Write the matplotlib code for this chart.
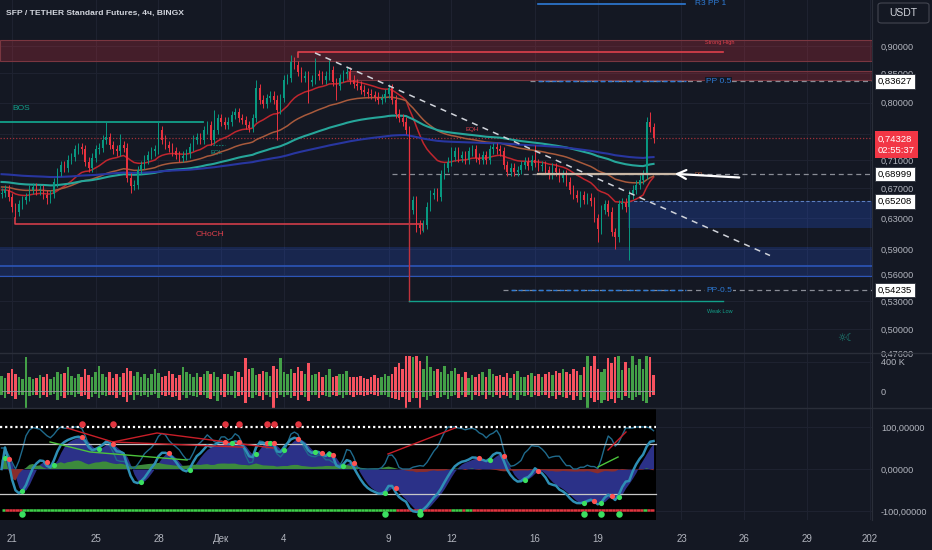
import numpy as np
import pandas as pd
import matplotlib
matplotlib.use("Agg")
import matplotlib.pyplot as plt
from matplotlib.collections import LineCollection
from matplotlib.patches import Rectangle, FancyBboxPatch

plt.rcParams['font.family'] = ['Liberation Sans', 'DejaVu Sans']

# ---- data (4h candles, time in days from 21 Nov 00:00) ----
open_first = 0.662
closes = [
    0.664, 0.668, 0.658, 0.644, 0.638, 0.648,
    0.654, 0.658, 0.668, 0.671, 0.667, 0.669,
    0.661, 0.656, 0.662, 0.678, 0.693, 0.703,
    0.699, 0.711, 0.715, 0.726, 0.730, 0.726,
    0.708, 0.699, 0.714, 0.726, 0.729, 0.741,
    0.745, 0.733, 0.726, 0.723, 0.733, 0.729,
    0.685, 0.673, 0.675, 0.696, 0.703, 0.711,
    0.718, 0.723, 0.726, 0.756, 0.741, 0.733,
    0.729, 0.723, 0.718, 0.714, 0.717, 0.720,
    0.730, 0.741, 0.745, 0.741, 0.756, 0.764,
    0.741, 0.756, 0.775, 0.769, 0.764, 0.769,
    0.780, 0.785, 0.775, 0.772, 0.764, 0.759,
    0.775, 0.825, 0.805, 0.798, 0.808, 0.812,
    0.805, 0.788, 0.808, 0.839, 0.842, 0.871,
    0.865, 0.853, 0.842, 0.846, 0.835, 0.839,
    0.849, 0.846, 0.839, 0.846, 0.856, 0.835,
    0.829, 0.842, 0.849, 0.853, 0.839, 0.832,
    0.829, 0.822, 0.818, 0.815, 0.813, 0.810,
    0.805, 0.808, 0.815, 0.825, 0.805, 0.782,
    0.775, 0.769, 0.756, 0.641, 0.654, 0.621,
    0.617, 0.621, 0.645, 0.661, 0.664, 0.658,
    0.689, 0.699, 0.708, 0.715, 0.723, 0.714,
    0.718, 0.711, 0.723, 0.726, 0.714, 0.711,
    0.718, 0.711, 0.726, 0.730, 0.726, 0.723,
    0.703, 0.693, 0.699, 0.693, 0.696, 0.703,
    0.708, 0.702, 0.711, 0.706, 0.701, 0.703,
    0.696, 0.689, 0.699, 0.693, 0.685, 0.689,
    0.679, 0.668, 0.661, 0.657, 0.660, 0.654,
    0.657, 0.652, 0.630, 0.615, 0.641, 0.648,
    0.638, 0.612, 0.605, 0.648, 0.650, 0.644,
    0.661, 0.668, 0.675, 0.682, 0.689, 0.769,
    0.760, 0.743,
]
# candles with long wicks: index -> (high, low)
spikes = {
    4: (None, 0.630), 13: (None, 0.648), 30: (0.768, None), 34: (0.749, None),
    37: (None, 0.664), 45: (0.770, None), 60: (None, 0.733), 61: (0.788, None),
    73: (0.839, None), 79: (None, 0.741), 83: (0.884, None), 88: (None, 0.800),
    90: (0.878, None), 94: (0.874, None), 96: (None, 0.805), 117: (None, 0.630),
    119: (None, 0.612), 120: (None, 0.609), 129: (0.730, None), 153: (0.733, None),
    166: (None, 0.645), 171: (None, 0.599), 176: (None, 0.590), 180: (None, 0.577),
    186: (0.785, None),
}
# volume, thousands (upper part / lower part)
vol_up = [
    210, 180, 250, 300, 230, 190, 170, 470, 200, 160, 180, 220,
    190, 240, 170, 200, 260, 230, 250, 330, 210, 180, 240, 200,
    300, 220, 190, 260, 340, 230, 200, 260, 180, 230, 190, 250,
    320, 280, 210, 260, 190, 240, 180, 230, 300, 250, 200, 210,
    270, 230, 180, 220, 330, 260, 240, 200, 250, 190, 230, 280,
    230, 260, 200, 170, 230, 240, 210, 280, 260, 200, 460, 300,
    320, 220, 240, 280, 260, 210, 350, 300, 460, 260, 240, 300,
    250, 330, 270, 240, 380, 220, 230, 260, 200, 220, 310, 200,
    210, 240, 230, 280, 200, 190, 190, 210, 180, 170, 200, 220,
    180, 200, 230, 210, 240, 330, 380, 300, 480, 480, 470, 480,
    420, 300, 480, 330, 280, 300, 260, 340, 240, 280, 320, 230,
    200, 260, 180, 220, 190, 240, 260, 200, 300, 240, 210, 220,
    200, 250, 180, 230, 270, 200, 190, 220, 250, 210, 230, 200,
    240, 260, 220, 280, 250, 300, 260, 240, 300, 270, 220, 330,
    480, 350, 480, 300, 260, 310, 450, 380, 470, 480, 290, 400,
    320, 480, 360, 440, 300, 480, 470, 220,
]
vol_dn = [
    60, 90, 40, 70, 110, 50, 60, 230, 70, 50, 60, 90,
    50, 80, 60, 40, 130, 70, 90, 60, 50, 80, 40, 70,
    60, 110, 80, 40, 90, 60, 70, 50, 60, 90, 50, 80,
    150, 60, 120, 50, 70, 60, 80, 60, 40, 90, 50, 70,
    60, 80, 70, 120, 50, 90, 60, 70, 80, 50, 60, 90,
    110, 70, 140, 60, 80, 50, 60, 90, 70, 60, 170, 80,
    90, 50, 70, 130, 60, 80, 230, 90, 60, 80, 60, 100,
    70, 130, 60, 80, 140, 60, 60, 90, 50, 70, 80, 60,
    70, 60, 90, 50, 60, 80, 60, 50, 70, 60, 40, 60,
    70, 60, 50, 80, 90, 110, 130, 80, 230, 150, 100, 90,
    230, 80, 130, 70, 60, 90, 80, 60, 110, 70, 50, 90,
    60, 80, 50, 120, 60, 70, 50, 110, 60, 80, 60, 90,
    60, 70, 90, 50, 120, 60, 70, 50, 80, 60, 70, 50,
    60, 90, 70, 110, 60, 80, 90, 60, 120, 70, 130, 80,
    230, 90, 150, 120, 160, 130, 140, 110, 160, 90, 130, 70,
    100, 130, 80, 60, 140, 170, 80, 60,
]
# moving averages: value at the left edge and length
ma_seed = [0.668, 0.672, 0.679, 0.690]
ma_len = [20, 50, 100, 200]
ma_colors = ['#c0262e', '#a85a3c', '#26a69a', '#2836a0']

# divergence lines in the oscillator: (day, level) points
div_red = [
    [(2.63, 97.6), (4.83, 64.3), (6.93, 85.7), (12.48, 50.0)],
    [(4.83, 64.3), (11.04, 52.0)],
    [(17.97, 35.7), (21.18, 97.6)],
    [(28.49, 45.2), (29.35, 88.1)],
]
div_green = [
    [(1.82, 64.3), (3.73, 40.5), (8.37, 21.4)],
    [(28.01, 4.8), (28.97, 28.6)],
]

date_ticks = [0, 4, 7, 10, 13, 18, 21, 25, 28, 32, 35, 38, 41]
date_labels = ['21', '25', '28', 'Дек', '4', '9', '12', '16', '19', '23', '26', '29', '202']
price_ticks = [0.476, 0.50, 0.53, 0.56, 0.59, 0.63, 0.67, 0.71, 0.75, 0.80, 0.85, 0.90]

BG = '#141823'
GRID = '#1e2230'
TXT = '#b2b5be'
GREEN = '#089981'
RED = '#e8323f'

W, H = 932, 550
PXD = 20.92  # pixels per day
X0 = 12
t_min, t_max = -X0 / PXD, (872 - X0) / PXD


def tx(px):
    return (px - X0) / PXD


def py2p(py):
    return 0.900 * np.exp(-(py - 46) / 483)


c = np.array(closes)
n = len(c)
t = -0.5 + np.arange(n) / 6
o = np.r_[open_first, c[:-1]]
hi = np.maximum(o, c) * 1.009
lo = np.minimum(o, c) * 0.991
for k, (a, b) in spikes.items():
    if a is not None:
        hi[k] = a
    if b is not None:
        lo[k] = b
up = c >= o
col = np.where(up, GREEN, RED)

fig = plt.figure(figsize=(W / 100, H / 100), dpi=100, facecolor=BG)
ax_p = fig.add_axes([0, 1 - 353 / H, 872 / W, 353 / H])
ax_v = fig.add_axes([0, 1 - 408 / H, 872 / W, 55 / H])
ax_o = fig.add_axes([0, 1 - 520 / H, 872 / W, 112 / H])
for ax in (ax_p, ax_v, ax_o):
    ax.set_facecolor(BG)
    for s in ax.spines.values():
        s.set_visible(False)
    ax.set_xlim(t_min, t_max)
    ax.set_xticks(date_ticks)
    ax.tick_params(length=0, colors=TXT, labelsize=6.6, pad=6.5)
    ax.yaxis.tick_right()
    for dt in date_ticks:
        ax.axvline(dt, color=GRID, lw=0.8, zorder=0.2)
ax_p.set_xticklabels([])
ax_v.set_xticklabels([])
ax_o.set_xticklabels(date_labels)
ax_o.tick_params(axis='x', pad=10, labelsize=7)

# separators
fig.add_artist(plt.Line2D([0, 1], [1 - 353 / H] * 2, color='#2a2e39', lw=1))
fig.add_artist(plt.Line2D([0, 1], [1 - 408 / H] * 2, color='#2a2e39', lw=1))
fig.add_artist(plt.Line2D([872 / W] * 2, [1 - 520 / H, 1], color='#2a2e39', lw=0.8))

# ---- price panel ----
ax_p.set_yscale('log')
ax_p.set_ylim(py2p(353), py2p(0))
ax_p.yaxis.set_minor_locator(matplotlib.ticker.NullLocator())
ax_p.set_yticks(price_ticks)
ax_p.set_yticklabels([f'{v:.5f}'.replace('.', ',') for v in price_ticks])
for v in price_ticks:
    ax_p.axhline(v, color=GRID, lw=0.8, zorder=0.2)

# zones
ax_p.add_patch(Rectangle((t_min, py2p(61)), t_max - t_min, py2p(40) - py2p(61),
                         fc=(0.95, 0.21, 0.27, 0.22), ec='#7a3640', lw=0.8, zorder=1))
ax_p.add_patch(Rectangle((tx(347), py2p(80)), t_max - tx(347), py2p(71) - py2p(80),
                         fc=(0.95, 0.21, 0.27, 0.22), ec='#7a3640', lw=0.8, zorder=1))
ax_p.add_patch(Rectangle((t_min, py2p(277)), t_max - t_min, py2p(247) - py2p(277),
                         fc=(0.16, 0.38, 1.0, 0.2), ec='none', zorder=1))
ax_p.plot([t_min, t_max], [py2p(266)] * 2, color='#2c55b8', lw=1.2, zorder=1.1)
ax_p.plot([t_min, t_max], [py2p(277)] * 2, color='#2c55b8', lw=0.8, zorder=1.1)
ax_p.add_patch(Rectangle((tx(628), py2p(228)), t_max - tx(628), 0.652 - py2p(228),
                         fc=(0.16, 0.38, 1.0, 0.22), ec='none', zorder=1))
ax_p.plot([tx(628), t_max], [0.652] * 2, color='#5d7fc0', lw=0.8, ls=(0, (3, 2)), zorder=1.1)

# structure lines
ax_p.plot([tx(298), tx(298), tx(723)], [py2p(57), 0.889, 0.889], color='#e0404c', lw=1.2, zorder=2)
ax_p.text(tx(720), py2p(43), 'Strong High', color='#e0404c', fontsize=4, ha='center', va='center')
ax_p.plot([t_min, tx(203)], [0.769, 0.769], color='#12a08a', lw=1.3, zorder=2)
ax_p.text(tx(12), py2p(109), 'BOS', color='#12a08a', fontsize=6, va='center')
ax_p.plot([tx(210), tx(225)], [0.733, 0.733], color='#12a08a', lw=0.8, ls=':', zorder=2)
ax_p.text(tx(217), py2p(153), 'EQL', color='#12a08a', fontsize=4.5, ha='center', va='center')
ax_p.text(tx(472), py2p(130), 'EQH', color='#e0404c', fontsize=4.5, ha='center', va='center')
ax_p.plot([tx(15), tx(15), tx(423), tx(423)], [py2p(218), 0.622, 0.622, py2p(230)],
          color='#e0404c', lw=1.1, zorder=2)
ax_p.text(tx(210), py2p(235), 'CHoCH', color='#e0404c', fontsize=6, ha='center', va='center')
ax_p.plot([tx(409), tx(409)], [0.741, 0.530], color='#c0323c', lw=1, zorder=2)
ax_p.plot([tx(409), tx(723)], [0.530, 0.530], color='#12a08a', lw=1, zorder=2)
ax_p.text(tx(720), py2p(312), 'Weak Low', color='#12a08a', fontsize=4, ha='center', va='center')
ax_p.axhline(0.74328, color='#a0303a', lw=0.9, ls=(0, (1, 1.5)), zorder=1.5)

# pivot levels
ax_p.plot([tx(538), tx(685)], [py2p(4)] * 2, color='#2e7bd6', lw=1.2)
ax_p.text(tx(695), py2p(4), 'R3 PP 1', color='#2e7bd6', fontsize=6, va='center')
for lvl, x_start, lab in ((0.83627, 530, 'PP 0.5'), (0.54235, 503, 'PP-0.5')):
    ax_p.plot([tx(x_start), t_max], [lvl, lvl], color='#8a8d96', lw=0.9, ls=(0, (4, 3)), zorder=1.2)
    ax_p.plot([tx(x_start + 8), tx(686)], [lvl, lvl], color='#2e7bd6', lw=1, ls=(0, (3, 2)), zorder=1.3)
    ax_p.text(tx(706), lvl, lab, color='#2e7bd6', fontsize=6, va='center', zorder=3,
              bbox=dict(fc=BG, ec='none', pad=0.5))
ax_p.plot([tx(392), t_max], [0.68999, 0.68999], color='#8a8d96', lw=0.9, ls=(0, (4, 3)), zorder=1.2)
ax_p.plot([tx(538), tx(680)], [0.6905, 0.6905], color='#c9b8a6', lw=1.6, zorder=4)
ax_p.text(tx(695), py2p(175), 'PP', color='#b0603f', fontsize=4.5, va='center')
ax_p.plot([tx(315), tx(770)], [py2p(53), py2p(256)], color='#d0d3da', lw=1.1, ls=(0, (4, 3.5)), zorder=4)
ax_p.annotate('', xy=(tx(672), py2p(174)), xytext=(tx(742), py2p(178)),
              arrowprops=dict(arrowstyle='->', color='white', lw=1.6, mutation_scale=16), zorder=5)
ax_p.text(tx(846), py2p(339), '☼☾', color='#1f8a7c', fontsize=7, ha='center', va='center',
          family=['DejaVu Sans'])

# moving averages
for seed, span, mc in zip(ma_seed, ma_len, ma_colors):
    s = pd.Series([seed] + list(c)).ewm(span=span, adjust=False).mean().values[1:]
    ax_p.plot(t, s, color=mc, lw=1.1 if span < 100 else 1.5, zorder=3)

# candles
ax_p.vlines(t, lo, hi, colors=col, lw=0.7, zorder=3.5)
body = np.maximum(np.abs(c - o), 0.0012)
ax_p.bar(t, body, bottom=np.minimum(o, c), width=0.07, color=col, zorder=3.6)

# price boxes on the scale
yt = ax_p.get_yaxis_transform()
for v in (0.83627, 0.68999, 0.65208, 0.54235):
    ax_p.text(1 + 6 / 872, v, f'{v:.5f}'.replace('.', ','), transform=yt, color='black',
              fontsize=6.8, va='center', clip_on=False, zorder=10,
              bbox=dict(boxstyle='square,pad=0.3', fc='white', ec='#2a2e39', lw=0.6))
ax_p.text(1 + 6 / 872, py2p(145), '0,74328\n02:55:37', transform=yt, color='white',
          fontsize=6.8, va='center', linespacing=1.4, clip_on=False, zorder=10,
          bbox=dict(boxstyle='square,pad=0.35', fc='#f23645', ec='none'))

# ---- volume panel ----
vu = np.array(vol_up, float)
vd = np.array(vol_dn, float)
ax_v.set_ylim(-234, 524)
ax_v.set_yticks([0, 400])
ax_v.set_yticklabels(['0', '400 K'])
ax_v.axhline(400, color=GRID, lw=0.8, zorder=0.2)
vcol = np.where(up, '#43a047', '#f7525f')
ax_v.bar(t, vu, width=0.12, color=vcol, zorder=2)
ax_v.bar(t, -vd, width=0.12, color=vcol, zorder=2)
ax_v.plot([t[0], t[-1]], [0, 0], color='#9598a1', lw=0.6, zorder=3)

# ---- oscillator panel ----
cs = pd.Series(c)
ap = pd.Series((hi + lo + c) / 3)
esa = ap.ewm(span=9, adjust=False).mean()
de = (ap - esa).abs().ewm(span=9, adjust=False).mean()
ci = ((ap - esa) / (0.015 * de)).fillna(0)
wt1 = ci.ewm(span=12, adjust=False).mean().values
wt2 = pd.Series(wt1).rolling(3, min_periods=1).mean().values

delta = cs.diff().fillna(0)
g = delta.clip(lower=0).ewm(alpha=1 / 14, adjust=False).mean()
ls_ = (-delta.clip(upper=0)).ewm(alpha=1 / 14, adjust=False).mean()
rsi = (100 - 100 / (1 + g / ls_.replace(0, np.nan))).fillna(50)
mn, mx = rsi.rolling(14, min_periods=1).min(), rsi.rolling(14, min_periods=1).max()
stoch = ((rsi - mn) / (mx - mn).replace(0, np.nan) * 100).fillna(50)
stk = stoch.rolling(3, min_periods=1).mean().values

mfi = pd.Series((c - o) / (hi - lo) * 150).rolling(60, min_periods=1).mean().values

ax_o.set_ylim(-121.4, 145.2)
ax_o.set_yticks([-100, 0, 100])
ax_o.set_yticklabels(['-100,00000', '0,00000', '100,00000'])
for v in (-100, 0, 100):
    ax_o.axhline(v, color=GRID, lw=0.8, zorder=0.2)
t_end = tx(656)
ax_o.add_patch(Rectangle((t_min, -121.4), t_end - t_min, 266.6, fc='black', ec='none', zorder=0.5))
ax_o.plot([t_min, t_end], [100, 100], color='white', lw=1.6, ls=(0, (1, 1.3)), zorder=2)
ax_o.plot([t_min, t_end], [60, 60], color='#c8c8c8', lw=0.9, zorder=2)
ax_o.plot([t_min, t_end], [-60, -60], color='#c8c8c8', lw=0.9, zorder=2)

ax_o.fill_between(t, 0, wt2, color='#2b3188', lw=0, zorder=1)
ax_o.plot(t, stk, color='#1f6a8c', lw=1, zorder=1.5)
ax_o.fill_between(t, 0, mfi, where=mfi >= 0, color='#3c8a3c', lw=0, zorder=1.2, interpolate=True)
ax_o.fill_between(t, 0, mfi, where=mfi < 0, color='#8a2c2c', lw=0, zorder=1.2, interpolate=True)
ax_o.plot(t, wt1, color='#2f8fb5', lw=1.8, zorder=2.5)

for pts in div_red:
    xs, ys = zip(*pts)
    ax_o.plot(xs, ys, color='#c81e28', lw=1, zorder=2.6)
for pts in div_green:
    xs, ys = zip(*pts)
    ax_o.plot(xs, ys, color='#4cc43c', lw=1, zorder=2.6)

# bottom trend line coloured by the money flow sign
pts = np.column_stack([t, np.full(n, -97.0)])
segs = np.stack([pts[:-1], pts[1:]], axis=1)
ax_o.add_collection(LineCollection(segs, colors=np.where(mfi[1:] >= 0, '#3ecf4a', '#e0353f'),
                                   lw=1.8, zorder=2))

# cross dots
diff = wt1 - wt2
cross = np.where(np.sign(diff[1:]) != np.sign(diff[:-1]))[0] + 1
for k in cross:
    cu = diff[k] > 0
    ax_o.scatter(t[k], wt2[k], s=14, color='#3be060' if cu else '#ff5252', zorder=4, lw=0)
    if not cu and wt2[k] > 45:
        ax_o.scatter(t[k], 108, s=22, color='#e0353f', zorder=4, lw=0)
    if cu and wt2[k] < -45:
        ax_o.scatter(t[k], -106, s=22, color='#3be060', zorder=4, lw=0)

# header
fig.text(6 / W, 1 - 13 / H, 'SFP / TETHER Standard Futures, 4ч, BINGX', color='#d1d4dc',
         fontsize=6.1, fontweight='bold', va='center')
fig.add_artist(FancyBboxPatch((878 / W, 1 - 23 / H), 51 / W, 20 / H,
                              boxstyle='round,pad=0,rounding_size=0.004',
                              transform=fig.transFigure, fc=BG, ec='#434651', lw=0.8))
fig.text(903.5 / W, 1 - 13 / H, 'USDT', color='#d1d4dc', fontsize=7.5, va='center', ha='center')

fig.savefig('out.png', dpi=100, facecolor=BG)
